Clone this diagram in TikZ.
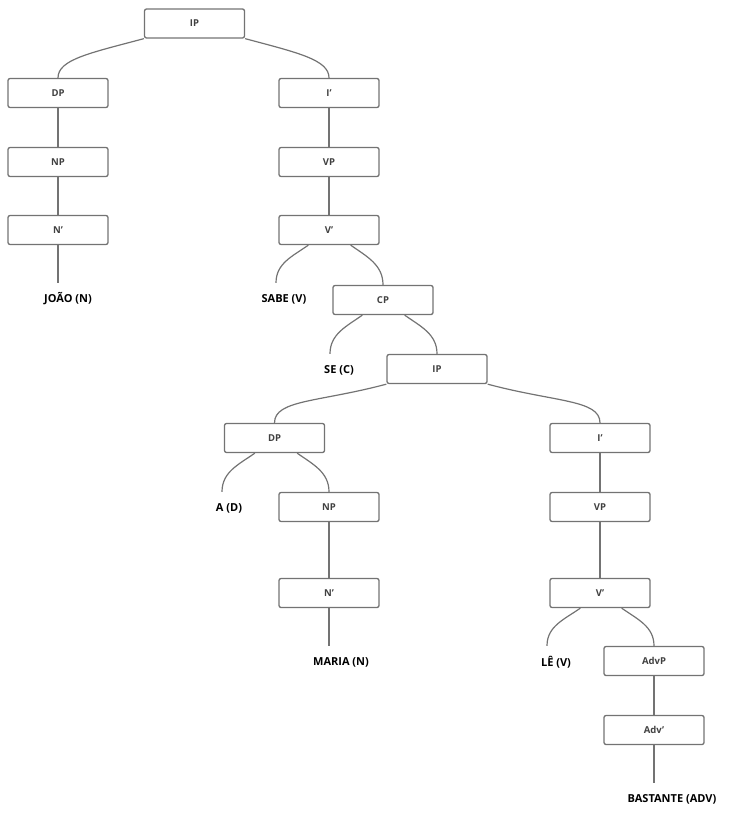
\documentclass[tikz,border=0pt]{standalone}
\usepackage{fontspec}
\setmainfont{Open Sans}
\begin{document}
\begin{tikzpicture}[
    x=1pt, y=-1pt,
    cat/.style={
        draw=black!55, line width=1.3pt, rounded corners=2pt,
        minimum width=100pt, minimum height=29pt,
        font=\fontsize{9.5}{11}\selectfont\bfseries, text=black!75
    },
    word/.style={
        inner sep=0pt, minimum height=32pt,
        font=\fontsize{11}{13}\selectfont\bfseries
    },
    edge/.style={draw=black!55, line width=1.2pt},
    longl/.style={out=195, in=90, out looseness=1.5, in looseness=0.5},
    longr/.style={out=-15, in=90, out looseness=1.5, in looseness=0.5}
]
\useasboundingbox (0,0) rectangle (728,813);

% Oração principal
\node[cat] (ip1) at (194.5, 23.5) {IP};
\node[cat] (dp1) at (58, 93)   {DP};
\node[cat] (ib1) at (329, 93)  {I'};
\node[cat] (np1) at (58, 162)  {NP};
\node[cat] (vp1) at (329, 162) {VP};
\node[cat] (nb1) at (58, 230)  {N'};
\node[cat] (vb1) at (329, 230) {V'};
\node[word] (joao) at (68, 299)  {JOÃO (N)};
\node[word] (sabe) at (284, 299) {SABE (V)};

% Oração encaixada
\node[cat] (cp)  at (383, 300) {CP};
\node[word] (se) at (339, 370) {SE (C)};
\node[cat] (ip2) at (437, 369) {IP};
\node[cat] (dp2) at (274.5, 438) {DP};
\node[cat] (ib2) at (600, 438) {I'};
\node[word] (art) at (229, 508) {A (D)};
\node[cat] (np2) at (329, 507) {NP};
\node[cat] (vp2) at (600, 507) {VP};
\node[cat] (nb2) at (329, 593) {N'};
\node[cat] (vb2) at (600, 593) {V'};
\node[word] (maria) at (341, 662) {MARIA (N)};
\node[word] (le)    at (556, 662) {LÊ (V)};
\node[cat] (advp) at (654, 661) {AdvP};
\node[cat] (advb) at (654, 730) {Adv'};
\node[word] (bast) at (672, 799) {BASTANTE (ADV)};

% Ramos curvos
\draw[edge] (ip1.south west) to[longl] (dp1.north);
\draw[edge] (ip1.south east) to[longr] (ib1.north);
\draw[edge] ([xshift=30pt]vb1.south west) to[out=215, in=90] ([xshift=-8pt]sabe.north);
\draw[edge] ([xshift=-29pt]vb1.south east) to[out=-35, in=90] (cp.north);
\draw[edge] ([xshift=30pt]cp.south west) to[out=215, in=90] ([xshift=-9pt]se.north);
\draw[edge] ([xshift=-29pt]cp.south east) to[out=-35, in=90] (ip2.north);
\draw[edge] (ip2.south west) to[longl] (dp2.north);
\draw[edge] (ip2.south east) to[longr] (ib2.north);
\draw[edge] ([xshift=31pt]dp2.south west) to[out=215, in=90] ([xshift=-7pt]art.north);
\draw[edge] ([xshift=-28pt]dp2.south east) to[out=-35, in=90] (np2.north);
\draw[edge] ([xshift=31pt]vb2.south west) to[out=215, in=90] ([xshift=-9pt]le.north);
\draw[edge] ([xshift=-29pt]vb2.south east) to[out=-35, in=90] (advp.north);

% Ramos retos
\draw[edge] (dp1) -- (np1);
\draw[edge] (np1) -- (nb1);
\draw[edge] (nb1.south) -- (joao.north -| nb1.south);
\draw[edge] (ib1) -- (vp1);
\draw[edge] (vp1) -- (vb1);
\draw[edge] (ib2) -- (vp2);
\draw[edge] (vp2) -- (vb2);
\draw[edge] (np2) -- (nb2);
\draw[edge] (nb2.south) -- (maria.north -| nb2.south);
\draw[edge] (advp) -- (advb);
\draw[edge] (advb.south) -- (bast.north -| advb.south);

\end{tikzpicture}
\end{document}
